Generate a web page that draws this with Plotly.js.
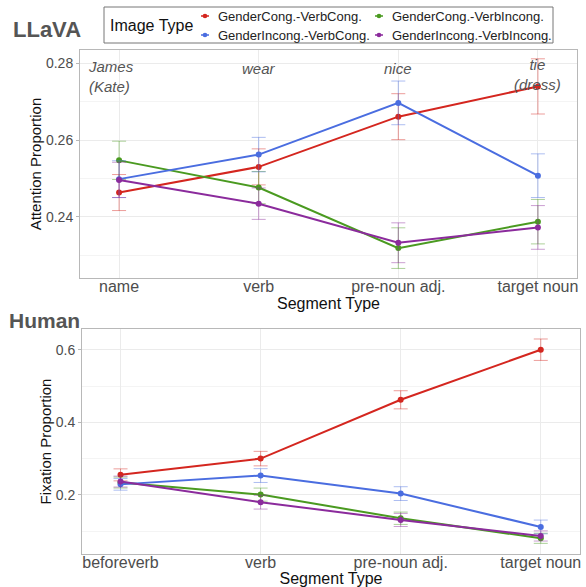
<!DOCTYPE html>
<html>
<head>
<meta charset="utf-8">
<script src="https://cdn.plot.ly/plotly-3.0.1.min.js"></script>
<style>html,body{margin:0;padding:0;background:#fff;}#chart{width:586px;height:587px;}</style>
</head>
<body>
<div id="chart"></div>
<script>
// ---- data ----
const seriesNames = ["GenderCong.-VerbCong.", "GenderIncong.-VerbCong.", "GenderCong.-VerbIncong.", "GenderIncong.-VerbIncong."];
const seriesColors = ["#d4261f", "#4a6de0", "#4a9a20", "#8b2b9c"];
const seriesErrColors = ["rgba(212,38,31,0.45)", "rgba(74,109,224,0.45)", "rgba(74,154,32,0.45)", "rgba(139,43,156,0.45)"];

const llavaCats = ["name", "verb", "pre-noun adj.", "target noun"];
const llavaCongCong = [0.2463, 0.2530, 0.2661, 0.2740];
const llavaIncongCong = [0.2498, 0.2562, 0.2697, 0.2507];
const llavaCongIncong = [0.2547, 0.2476, 0.2318, 0.2387];
const llavaIncongIncong = [0.2496, 0.2434, 0.2332, 0.2372];
const llavaErrCongCong = [0.0047, 0.0047, 0.0060, 0.0072];
const llavaErrIncongCong = [0.0048, 0.0045, 0.0057, 0.0057];
const llavaErrCongIncong = [0.0050, 0.0042, 0.0053, 0.0058];
const llavaErrIncongIncong = [0.0046, 0.0041, 0.0052, 0.0057];
const llavaWords = ["James<br>(Kate)", "wear", "nice", "tie<br>(dress)"];

const humanCats = ["beforeverb", "verb", "pre-noun adj.", "target noun"];
const humanCongCong = [0.2552, 0.3000, 0.4620, 0.6000];
const humanIncongCong = [0.2290, 0.2533, 0.2036, 0.1117];
const humanCongIncong = [0.2340, 0.2008, 0.1357, 0.0805];
const humanIncongIncong = [0.2367, 0.1800, 0.1310, 0.0869];
const humanErrCongCong = [0.0165, 0.0200, 0.0250, 0.0295];
const humanErrIncongCong = [0.0160, 0.0190, 0.0190, 0.0190];
const humanErrCongIncong = [0.0150, 0.0180, 0.0170, 0.0140];
const humanErrIncongIncong = [0.0150, 0.0190, 0.0180, 0.0140];

// ---- build ----
const llavaVals = [llavaCongCong, llavaIncongCong, llavaCongIncong, llavaIncongIncong];
const llavaErrs = [llavaErrCongCong, llavaErrIncongCong, llavaErrCongIncong, llavaErrIncongIncong];
const humanVals = [humanCongCong, humanIncongCong, humanCongIncong, humanIncongIncong];
const humanErrs = [humanErrCongCong, humanErrIncongCong, humanErrCongIncong, humanErrIncongIncong];

const drawOrder = [0, 2, 1, 3];
const traces = [];
drawOrder.forEach((i) => {
  traces.push({
    type: "scatter", mode: "lines+markers",
    x: llavaCats, y: llavaVals[i], xaxis: "x", yaxis: "y",
    name: seriesNames[i], showlegend: false,
    line: {color: seriesColors[i], width: 2},
    marker: {color: seriesColors[i], size: 6},
    error_y: {type: "data", array: llavaErrs[i], visible: true, color: seriesErrColors[i], thickness: 1, width: 7},
    hoverinfo: "skip"
  });
});
drawOrder.forEach((i) => {
  traces.push({
    type: "scatter", mode: "lines+markers",
    x: humanCats, y: humanVals[i], xaxis: "x2", yaxis: "y2",
    name: seriesNames[i], showlegend: false,
    line: {color: seriesColors[i], width: 2},
    marker: {color: seriesColors[i], size: 6},
    error_y: {type: "data", array: humanErrs[i], visible: true, color: seriesErrColors[i], thickness: 1, width: 7},
    hoverinfo: "skip"
  });
});

const FONT = "Liberation Sans, Arial, sans-serif";
const W = 586, H = 587, ML = 80, MR = 6, MT = 50, MB = 33;
const PW = W - ML - MR, PH = H - MT - MB;
const px = (x) => (x - ML) / PW;          // pixel -> paper x
const py = (y) => (H - MB - y) / PH;      // pixel -> paper y

const axisCommon = {
  showline: true, mirror: true, linecolor: "#b8b8b8", linewidth: 1,
  showgrid: true, gridcolor: "#ebebeb", gridwidth: 1,
  ticks: "outside", ticklen: 3, tickcolor: "#b8b8b8",
  tickfont: {family: FONT, size: 16, color: "#4d4d4d"},
  zeroline: false
};

const wordY = [0.2767, 0.2788, 0.2788, 0.2772];
const annotations = llavaWords.map((w, i) => ({
  xref: "x", yref: "y", x: i === 0 ? -0.06 : i, y: wordY[i],
  text: w, showarrow: false, xanchor: "center", yanchor: "middle",
  align: i === 0 ? "left" : "center",
  font: {family: FONT, size: 15, color: "#555555", style: "italic"}
}));
annotations.push({
  xref: "paper", yref: "paper", x: px(11), y: py(30), xanchor: "left", yanchor: "middle",
  text: "<b>LLaVA</b>", showarrow: false, font: {family: FONT, size: 22, color: "#555555"}
});
annotations.push({
  xref: "paper", yref: "paper", x: px(7), y: py(320), xanchor: "left", yanchor: "middle",
  text: "<b>Human</b>", showarrow: false, font: {family: FONT, size: 21, color: "#555555"}
});

// ---- legend (drawn as layout shapes + annotations) ----
const shapes = [{
  type: "rect", xref: "paper", yref: "paper",
  x0: px(104), x1: px(553), y0: py(43), y1: py(7),
  line: {color: "#777777", width: 1}, fillcolor: "rgba(0,0,0,0)"
}];
annotations.push({
  xref: "paper", yref: "paper", x: px(108), y: py(26), xanchor: "left", yanchor: "middle",
  text: "Image Type", showarrow: false, font: {family: FONT, size: 16, color: "#111111"}
});
const legendColX = [205, 379];
const legendRowY = [16, 35];
const legendOrder = [0, 2, 1, 3];
legendOrder.forEach((i, k) => {
  const cx = legendColX[k % 2], cy = legendRowY[Math.floor(k / 2)];
  shapes.push({
    type: "line", xref: "paper", yref: "paper",
    x0: px(cx - 4), x1: px(cx + 4), y0: py(cy), y1: py(cy),
    line: {color: seriesColors[i], width: 1.5}
  });
  shapes.push({
    type: "circle", xref: "paper", yref: "paper",
    x0: px(cx - 2.3), x1: px(cx + 2.3), y0: py(cy + 2.3), y1: py(cy - 2.3),
    line: {color: seriesColors[i], width: 0}, fillcolor: seriesColors[i]
  });
  annotations.push({
    xref: "paper", yref: "paper", x: px(cx + 11), y: py(cy), xanchor: "left", yanchor: "middle",
    text: seriesNames[i], showarrow: false, font: {family: FONT, size: 13, color: "#222222"}
  });
});

const layout = {
  width: W, height: H,
  margin: {l: ML, r: MR, t: MT, b: MB},
  paper_bgcolor: "#ffffff", plot_bgcolor: "#ffffff",
  font: {family: FONT},
  showlegend: false,
  xaxis: Object.assign({}, axisCommon, {
    domain: [0, 0.994], anchor: "y", type: "category", range: [-0.28, 3.28],
    ticklen: 0, ticklabelstandoff: -6,
    title: {text: "Segment Type", standoff: 0, font: {family: FONT, size: 16, color: "#111111"}}
  }),
  yaxis: Object.assign({}, axisCommon, {
    domain: [0.5476, 1], anchor: "x", range: [0.2240, 0.2835],
    tickvals: [0.24, 0.26, 0.28], ticktext: ["0.24", "0.26", "0.28"],
    tickfont: {family: FONT, size: 14, color: "#4d4d4d"},
    minor: {tickvals: [0.23, 0.25, 0.27], showgrid: true, gridcolor: "#f4f4f4", ticks: ""},
    title: {text: "Attention Proportion", standoff: 0, font: {family: FONT, size: 15, color: "#111111"}}
  }),
  xaxis2: Object.assign({}, axisCommon, {
    domain: [0.004, 1], anchor: "y2", type: "category", range: [-0.275, 3.28],
    ticklen: 0, ticklabelstandoff: -6,
    title: {text: "Segment Type", standoff: 4, font: {family: FONT, size: 16, color: "#111111"}}
  }),
  yaxis2: Object.assign({}, axisCommon, {
    domain: [0, 0.4464], anchor: "x2", range: [0.0372, 0.657],
    tickvals: [0.2, 0.4, 0.6], ticktext: ["0.2", "0.4", "0.6"],
    tickfont: {family: FONT, size: 14, color: "#4d4d4d"},
    minor: {tickvals: [0.1, 0.3, 0.5], showgrid: true, gridcolor: "#f4f4f4", ticks: ""},
    title: {text: "Fixation Proportion", standoff: 0, font: {family: FONT, size: 15, color: "#111111"}}
  }),
  shapes: shapes,
  annotations: annotations
};

Plotly.newPlot("chart", traces, layout, {staticPlot: true, displayModeBar: false});
</script>
</body>
</html>
